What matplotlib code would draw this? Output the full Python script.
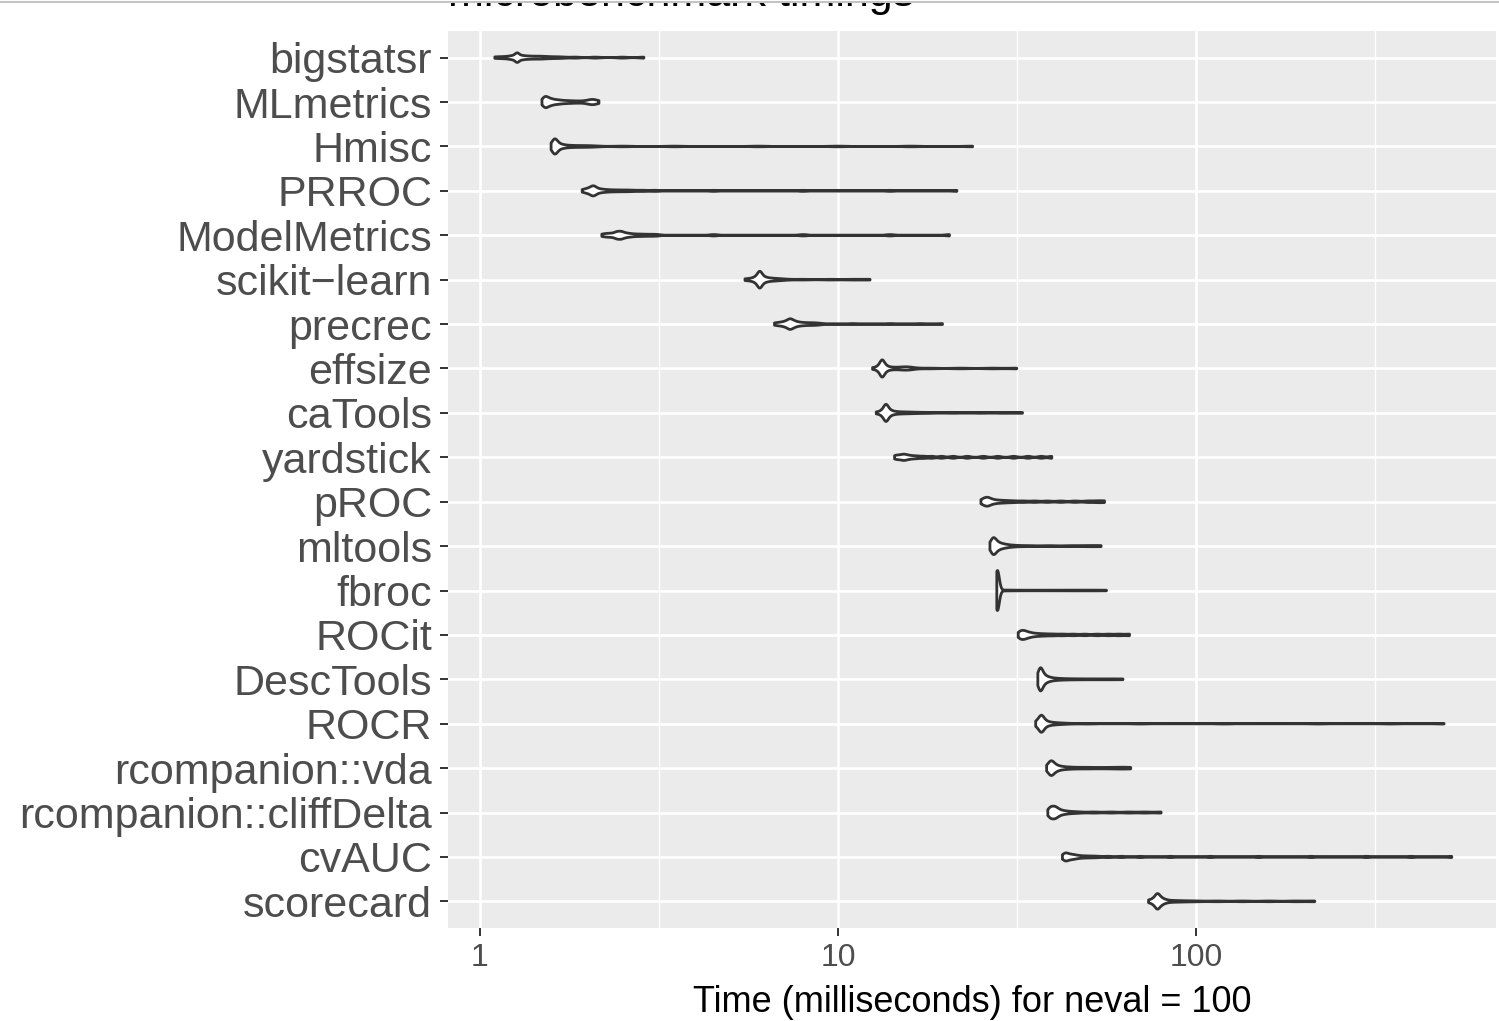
import numpy as np
import matplotlib
matplotlib.use("Agg")
import matplotlib.pyplot as plt
from matplotlib.lines import Line2D
from matplotlib.patches import Rectangle

plt.rcParams['font.family'] = ['Liberation Sans', 'DejaVu Sans']

# benchmarked packages, top to bottom
packages = ['bigstatsr', 'MLmetrics', 'Hmisc', 'PRROC', 'ModelMetrics',
            'scikit\u2212learn', 'precrec', 'effsize', 'caTools', 'yardstick',
            'pROC', 'mltools', 'fbroc', 'ROCit', 'DescTools', 'ROCR',
            'rcompanion::vda', 'rcompanion::cliffDelta', 'cvAUC', 'scorecard']

# timings in milliseconds, one list per package
timings = [
    [1.10, 1.15, 1.19, 1.22, 1.24, 1.26, 1.27, 1.28, 1.30, 1.32, 1.35, 1.38, 1.42, 1.46, 1.50, 1.55, 1.62, 1.70, 1.85, 2.1, 2.5, 2.87],
    [1.49, 1.505, 1.52, 1.535, 1.55, 1.57, 1.59, 1.62, 1.65, 1.69, 1.74, 1.80, 1.88, 1.97, 2.02, 2.06, 2.10, 2.15],
    [1.58, 1.59, 1.60, 1.61, 1.62, 1.63, 1.64, 1.65, 1.67, 1.69, 1.72, 1.76, 1.82, 1.90, 2.0, 2.08, 2.5, 3.5, 6.0, 10.0, 16.0, 23.8],
    [1.93, 1.97, 2.00, 2.03, 2.05, 2.07, 2.09, 2.11, 2.14, 2.18, 2.23, 2.30, 2.40, 2.52, 2.65, 2.85, 3.1, 4.5, 8.0, 14.0, 21.5],
    [2.19, 2.25, 2.30, 2.35, 2.39, 2.42, 2.45, 2.48, 2.51, 2.55, 2.60, 2.66, 2.75, 2.85, 2.98, 3.12, 4.5, 8.0, 14.0, 20.5],
    [5.5, 5.65, 5.78, 5.87, 5.93, 5.98, 6.02, 6.05, 6.08, 6.12, 6.17, 6.24, 6.33, 6.45, 6.6, 6.8, 7.0, 8.0, 9.5, 11.0, 12.3],
    [6.65, 6.8, 6.95, 7.07, 7.17, 7.25, 7.32, 7.38, 7.45, 7.53, 7.62, 7.75, 7.9, 8.1, 8.35, 8.6, 8.9, 11.0, 14.0, 17.0, 19.6],
    [12.5, 12.8, 13.0, 13.1, 13.2, 13.27, 13.33, 13.4, 13.5, 13.62, 13.8, 14.1, 14.5, 15.0, 15.4, 15.7, 16.0, 18.0, 22.0, 27.0, 31.6],
    [12.8, 13.1, 13.3, 13.42, 13.52, 13.6, 13.67, 13.75, 13.85, 14.0, 14.2, 14.5, 15.0, 15.6, 16.5, 18.0, 21.0, 25.0, 29.0, 32.8],
    [14.4, 14.7, 15.0, 15.25, 15.5, 15.8, 16.2, 16.7, 17.4, 18.3, 19.5, 21.0, 23.0, 25.5, 28.0, 31.0, 34.0, 37.0, 39.6],
    [25.1, 25.45, 25.8, 26.1, 26.4, 26.75, 27.2, 27.8, 28.6, 29.6, 31.0, 33.0, 35.5, 38.5, 42.0, 46.0, 50.0, 53.0, 55.6],
    [26.6, 26.78, 26.96, 27.14, 27.32, 27.5, 27.7, 27.95, 28.3, 28.7, 29.2, 29.9, 30.9, 34.0, 39.0, 45.0, 50.0, 54.4],
    [27.8, 27.83, 27.85, 27.86, 27.87, 27.88, 27.89, 27.9, 27.9, 27.91, 27.92, 27.93, 27.94, 27.95, 27.97, 28.0, 28.05, 28.15,
     28.6, 29.5, 31.0, 34.0, 38.0, 43.0, 48.0, 51.5, 53.0, 56.3],
    [31.9, 32.3, 32.7, 33.1, 33.5, 34.0, 34.6, 35.4, 36.5, 38.0, 40.0, 42.5, 45.5, 49.0, 53.0, 57.0, 61.0, 65.3],
    [36.2, 36.35, 36.5, 36.65, 36.8, 36.95, 37.1, 37.3, 37.55, 37.85, 38.2, 38.7, 39.3, 40.2, 41.6, 45.0, 50.0, 56.0, 62.6],
    [35.7, 36.0, 36.3, 36.55, 36.8, 37.0, 37.2, 37.4, 37.65, 37.95, 38.4, 39.0, 39.8, 41.0, 43.0, 50.0, 70.0, 120.0, 220.0, 350.0, 494.0],
    [38.3, 38.65, 39.0, 39.3, 39.6, 39.9, 40.25, 40.7, 41.3, 42.1, 43.3, 45.0, 48.0, 51.0, 55.0, 59.0, 62.5, 65.8],
    [38.6, 38.95, 39.3, 39.65, 40.0, 40.35, 40.7, 41.1, 41.6, 42.3, 43.2, 44.5, 47.0, 52.0, 58.0, 65.0, 72.0, 80.0],
    [42.4, 42.9, 43.4, 43.9, 44.5, 45.2, 46.0, 47.0, 48.5, 50.5, 53.0, 57.0, 62.0, 70.0, 85.0, 110.0, 150.0, 210.0, 300.0, 400.0, 519.0],
    [73.8, 75.0, 76.0, 76.8, 77.4, 77.9, 78.3, 78.8, 79.4, 80.1, 81.0, 82.0, 84.0, 87.0, 92.0, 100.0, 115.0, 135.0, 160.0, 190.0, 215.0],
]

x_ticks = [1, 10, 100]
x_minor = [10 ** 0.5, 10 ** 1.5, 10 ** 2.5]

BW = 0.005  # core kernel bandwidth in log10(ms)


def gauss_sum(grid, v, bw):
    k = np.exp(-0.5 * ((grid[:, None] - v[None, :]) / bw[None, :]) ** 2)
    return (k / (bw[None, :] * np.sqrt(2 * np.pi))).sum(axis=1) / len(v)


def kde(v, n=1000):
    # gaussian density on log10 time, wider kernels for the sparse tail
    pilot = gauss_sum(v, v, np.full(len(v), BW))
    bw = BW * np.clip(pilot.max() / pilot, 1, 14)
    grid = np.linspace(v.min(), v.max(), n)
    return grid, gauss_sum(grid, v, bw)


curves = [kde(np.log10(np.array(t))) for t in timings]
dmax = max(d.max() for _, d in curves)

fig = plt.figure(figsize=(14.99, 10.21), dpi=100)
ax = fig.add_axes([448 / 1499, 93 / 1021, 1048 / 1499, 897 / 1021])
ax.set_facecolor('#EBEBEB')
ax.set_xscale('log')

# violins share one area scale, width 0.9 for the densest one
for i, (g, d) in enumerate(curves):
    pos = i + 1
    w = d / dmax * 0.45
    xs = np.concatenate([10 ** g, 10 ** g[::-1]])
    ys = np.concatenate([pos - w, pos + w[::-1]])
    ax.fill(xs, ys, facecolor='white', edgecolor='#333333', lw=2.0,
            joinstyle='round', capstyle='round', zorder=3)

ax.set_xlim(0.814, 690)
ax.set_ylim(20.6, 0.4)
ax.set_yticks(range(1, len(packages) + 1))
ax.set_yticklabels(packages, fontsize=31, color='#4D4D4D')
ax.set_xticks(x_ticks)
ax.set_xticklabels([str(t) for t in x_ticks], fontsize=23, color='#4D4D4D')
ax.set_xticks(x_minor, minor=True)
ax.xaxis.set_minor_formatter(plt.NullFormatter())

ax.grid(which='major', color='white', lw=1.9, zorder=1)
ax.grid(which='minor', axis='x', color='white', lw=1.0, zorder=1)
ax.set_axisbelow(True)
ax.tick_params(axis='both', which='major', length=5.5, width=1.4, color='#333333')
ax.tick_params(axis='y', pad=6)
ax.tick_params(axis='x', pad=5)
ax.tick_params(which='minor', length=0)
for s in ax.spines.values():
    s.set_visible(False)

ax.set_xlabel('Time (milliseconds) for neval = 100', fontsize=26, color='black', labelpad=9)

fig.text(448 / 1499, 1 - 6 / 1021, 'microbenchmark timings', fontsize=31,
         ha='left', va='baseline', color='black')
fig.add_artist(Rectangle((0, 1 - 2.5 / 1021), 1, 2.5 / 1021, transform=fig.transFigure,
                         facecolor='white', edgecolor='none', zorder=5))
fig.add_artist(Line2D([0, 1], [1 - 2.5 / 1021] * 2, color='#C4C4C4', lw=1.5, zorder=6))

fig.savefig('out.png', dpi=100)
